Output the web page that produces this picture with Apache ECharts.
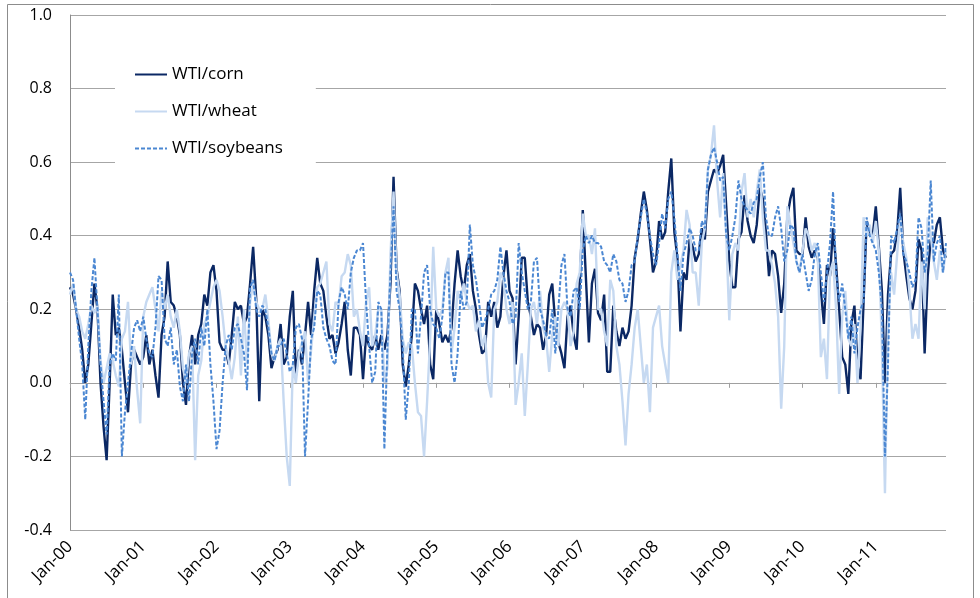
<!DOCTYPE html>
<html>
<head>
<meta charset="utf-8">
<script src="https://cdn.jsdelivr.net/npm/echarts@6/dist/echarts.min.js"></script>
<style>
html,body{margin:0;padding:0;background:#fff;}
#chart{width:980px;height:598px;}
</style>
</head>
<body>
<div id="chart"></div>
<script>
// Semi-monthly observations, Jan 2000 .. Dec 2011 (24 per year)
const tickLabels = ['Jan-00','Jan-01','Jan-02','Jan-03','Jan-04','Jan-05','Jan-06','Jan-07','Jan-08','Jan-09','Jan-10','Jan-11'];
const seriesNames = ['WTI/corn','WTI/wheat','WTI/soybeans'];

const corn = [
0.26,0.24,0.20,0.15,0.09,0.00,0.05,0.16,0.27,0.20,0.00,-0.12,-0.21,0.00,0.24,0.13,0.15,0.09,0.00,-0.08,0.05,0.09,0.07,0.05,
0.07,0.13,0.05,0.09,0.02,-0.04,0.13,0.18,0.33,0.22,0.21,0.18,0.13,0.00,-0.06,0.07,0.13,0.05,0.13,0.16,0.24,0.21,0.30,0.32,
0.25,0.11,0.09,0.09,0.05,0.13,0.22,0.20,0.21,0.16,0.18,0.27,0.37,0.23,-0.05,0.20,0.18,0.13,0.04,0.07,0.09,0.16,0.05,0.07,
0.18,0.25,0.02,0.09,0.05,0.13,0.22,0.13,0.25,0.34,0.27,0.25,0.18,0.12,0.13,0.08,0.11,0.16,0.22,0.09,0.02,0.15,0.15,0.13,
0.01,0.13,0.10,0.09,0.13,0.09,0.13,0.09,0.13,0.27,0.56,0.31,0.25,0.05,-0.01,0.05,0.13,0.27,0.25,0.20,0.16,0.21,0.05,0.01,
0.20,0.16,0.11,0.13,0.11,0.15,0.27,0.36,0.29,0.25,0.32,0.35,0.25,0.20,0.13,0.08,0.09,0.22,0.18,0.22,0.15,0.18,0.29,0.36,
0.25,0.23,0.05,0.18,0.34,0.34,0.22,0.18,0.13,0.16,0.15,0.09,0.13,0.24,0.27,0.16,0.11,0.08,0.04,0.18,0.21,0.13,0.09,0.27,
0.47,0.29,0.11,0.27,0.31,0.19,0.17,0.24,0.03,0.03,0.21,0.14,0.10,0.15,0.12,0.14,0.21,0.34,0.39,0.46,0.52,0.47,0.39,0.30,
0.33,0.44,0.39,0.41,0.52,0.61,0.41,0.34,0.14,0.30,0.28,0.39,0.37,0.33,0.35,0.42,0.39,0.52,0.55,0.58,0.57,0.59,0.62,0.48,
0.33,0.26,0.26,0.39,0.41,0.51,0.44,0.40,0.38,0.43,0.53,0.50,0.41,0.29,0.36,0.35,0.29,0.19,0.27,0.45,0.50,0.53,0.36,0.35,
0.35,0.45,0.37,0.34,0.36,0.34,0.25,0.16,0.32,0.29,0.42,0.32,0.20,0.07,0.05,-0.03,0.16,0.21,0.05,0.01,0.22,0.44,0.41,0.40,
0.48,0.37,0.25,0.00,0.24,0.35,0.36,0.41,0.53,0.36,0.29,0.23,0.20,0.25,0.39,0.36,0.08,0.29,0.39,0.38,0.43,0.45,0.36,0.34
];
const wheat = [
0.24,0.27,0.20,0.18,0.14,0.12,0.16,0.21,0.19,0.21,0.06,0.00,0.04,0.08,0.06,0.02,-0.01,0.12,0.14,0.22,0.05,0.10,-0.02,-0.11,
0.18,0.22,0.24,0.26,0.20,0.14,0.25,0.20,0.24,0.18,0.15,0.20,0.14,0.04,0.00,0.08,0.10,-0.21,0.02,0.06,0.16,0.18,0.22,0.26,
0.28,0.25,0.18,0.10,0.06,0.01,0.07,0.18,0.02,0.20,0.05,0.22,0.27,0.22,0.20,0.20,0.24,0.17,0.08,0.06,0.10,0.12,-0.05,-0.20,
-0.28,0.05,0.00,0.08,0.11,0.14,0.00,0.09,0.18,0.26,0.27,0.30,0.33,0.16,0.14,0.22,0.21,0.29,0.30,0.35,0.32,0.18,0.20,0.14,
0.10,0.22,0.26,0.10,0.13,0.20,0.20,0.00,0.04,0.35,0.52,0.30,0.24,0.12,0.08,0.11,0.10,0.00,-0.08,-0.09,-0.20,-0.05,0.12,0.37,
0.20,0.18,0.20,0.30,0.34,0.08,0.15,0.25,0.22,0.27,0.22,0.20,0.21,0.14,0.17,0.10,0.13,0.00,-0.04,0.20,0.22,0.30,0.28,0.20,
0.16,0.22,-0.06,0.00,0.08,-0.09,0.05,0.20,0.22,0.16,0.25,0.15,0.12,0.03,0.13,0.18,0.10,0.20,0.22,0.20,0.10,0.14,0.27,0.30,
0.46,0.40,0.40,0.35,0.42,0.20,0.20,0.14,0.10,0.28,0.25,0.10,0.05,-0.05,-0.17,-0.03,0.05,0.15,0.20,0.10,0.00,0.05,-0.08,0.15,
0.18,0.21,0.10,0.05,0.00,0.30,0.36,0.28,0.32,0.36,0.47,0.43,0.30,0.30,0.21,0.38,0.42,0.58,0.62,0.70,0.55,0.45,0.57,0.40,
0.17,0.35,0.38,0.36,0.52,0.57,0.45,0.50,0.45,0.52,0.58,0.45,0.36,0.36,0.32,0.27,0.18,-0.07,0.10,0.48,0.43,0.38,0.33,0.30,
0.36,0.42,0.40,0.36,0.38,0.34,0.07,0.12,0.01,0.30,0.33,0.20,-0.03,0.18,0.25,0.12,0.10,0.16,0.00,0.15,0.45,0.40,0.43,0.38,
0.44,0.36,0.10,-0.30,0.15,0.30,0.24,0.35,0.45,0.38,0.34,0.25,0.12,0.16,0.12,0.33,0.20,0.45,0.40,0.33,0.28,0.36,0.30,0.36
];
const soybeans = [
0.30,0.28,0.20,0.12,0.05,-0.10,0.10,0.25,0.34,0.20,0.05,-0.05,-0.14,0.05,0.08,0.06,0.24,-0.20,-0.08,0.00,0.08,0.15,0.17,0.14,
0.18,0.12,0.08,0.07,0.15,0.29,0.28,0.12,0.10,0.15,0.05,0.09,-0.01,-0.05,0.05,-0.05,0.08,0.12,0.05,0.15,0.10,0.20,0.05,-0.05,
-0.18,-0.13,0.00,0.10,0.13,0.09,0.15,0.16,0.12,0.08,-0.02,0.26,0.28,0.20,0.18,0.21,0.20,0.15,0.08,0.06,0.10,0.10,0.12,0.08,
0.03,0.05,0.15,0.16,0.12,-0.20,-0.05,0.12,0.15,0.25,0.24,0.15,0.12,0.10,0.06,0.05,0.22,0.26,0.24,0.20,0.30,0.34,0.36,0.36,
0.38,0.22,0.10,0.00,0.03,0.22,0.20,-0.18,0.10,0.30,0.48,0.25,0.20,0.10,-0.10,0.00,0.20,0.20,0.08,0.18,0.30,0.32,0.20,0.16,
0.15,0.12,0.18,0.30,0.30,0.05,0.00,0.08,0.25,0.20,0.22,0.43,0.32,0.28,0.22,0.15,0.17,0.20,0.24,0.25,0.28,0.37,0.30,0.25,
0.22,0.16,0.18,0.38,0.30,0.25,0.20,0.22,0.33,0.34,0.20,0.17,0.13,0.12,0.20,0.08,0.20,0.32,0.35,0.20,0.18,0.25,0.26,0.20,
0.36,0.40,0.38,0.40,0.38,0.38,0.37,0.33,0.32,0.30,0.35,0.33,0.28,0.27,0.22,0.25,0.32,0.33,0.40,0.45,0.50,0.46,0.40,0.35,
0.32,0.38,0.46,0.42,0.50,0.52,0.45,0.35,0.25,0.35,0.38,0.42,0.40,0.36,0.36,0.44,0.42,0.58,0.62,0.64,0.60,0.55,0.56,0.40,
0.36,0.40,0.45,0.55,0.50,0.48,0.47,0.46,0.49,0.50,0.56,0.60,0.45,0.40,0.40,0.45,0.48,0.42,0.33,0.36,0.43,0.42,0.33,0.30,
0.35,0.30,0.25,0.28,0.35,0.38,0.30,0.22,0.30,0.38,0.52,0.30,0.22,0.27,0.20,0.12,0.18,0.08,0.15,0.20,0.22,0.45,0.40,0.38,
0.36,0.30,0.20,-0.20,0.05,0.40,0.38,0.42,0.46,0.35,0.33,0.30,0.26,0.28,0.45,0.42,0.30,0.35,0.55,0.33,0.38,0.40,0.30,0.38
];

const monthNames = ['Jan','Feb','Mar','Apr','May','Jun','Jul','Aug','Sep','Oct','Nov','Dec'];
const categories = corn.map(function (_, i) {
  const y = 2000 + Math.floor(i / 24);
  const m = Math.floor((i % 24) / 2);
  return monthNames[m] + '-' + String(y).slice(2) + (i % 2 ? 'b' : 'a');
});

const FONT = '"Open Sans", Lato, sans-serif';
const chart = echarts.init(document.getElementById('chart'), null, {renderer: 'canvas'});
const isYearStart = function (idx) { return idx % 24 === 0; };

chart.setOption({
  animation: false,
  backgroundColor: '#ffffff',
  graphic: [{
    type: 'rect', silent: true, z: -1,
    shape: {x: 7.5, y: 4.5, width: 966, height: 620},
    style: {fill: 'none', stroke: '#8c8c8c', lineWidth: 1}
  }],
  grid: {left: 70, right: 34, top: 15, bottom: 68, containLabel: false},
  legend: {
    data: seriesNames,
    orient: 'vertical',
    left: 115, top: 53,
    padding: [13, 33, 11, 19],
    itemWidth: 32, itemHeight: 12, itemGap: 20,
    backgroundColor: '#ffffff',
    itemStyle: {opacity: 0},
    textStyle: {fontFamily: FONT, fontSize: 17, color: '#000'},
    z: 10
  },
  xAxis: [{
    type: 'category',
    data: categories,
    boundaryGap: false,
    position: 'bottom',
    axisLine: {show: false, onZero: false},
    axisTick: {show: false},
    splitLine: {show: false},
    axisLabel: {
      interval: function (idx) { return isYearStart(idx); },
      formatter: function (val, idx) { return tickLabels[idx / 24]; },
      rotate: 45, margin: 14,
      fontFamily: FONT, fontSize: 17, color: '#000'
    }
  }, {
    type: 'category',
    data: categories,
    boundaryGap: false,
    position: 'bottom',
    axisLine: {show: true, onZero: true, lineStyle: {color: '#a0a0a0', width: 1}},
    axisTick: {show: true, length: 5, interval: function (idx) { return isYearStart(idx); }, lineStyle: {color: '#a0a0a0'}},
    axisLabel: {show: false},
    splitLine: {show: false}
  }],
  yAxis: {
    type: 'value',
    min: -0.4, max: 1.0, interval: 0.2,
    axisLine: {show: true, lineStyle: {color: '#8c8c8c', width: 1}},
    axisTick: {show: false},
    splitLine: {show: true, lineStyle: {color: '#a6a6a6', width: 1}},
    axisLabel: {
      formatter: function (v) { return v.toFixed(1); },
      margin: 18, fontFamily: FONT, fontSize: 16, color: '#000'
    }
  },
  series: [{
    name: seriesNames[0], type: 'line', data: corn, xAxisIndex: 0,
    symbol: 'none', lineStyle: {color: '#0b2864', width: 2.4}, itemStyle: {color: '#0b2864'}
  }, {
    name: seriesNames[1], type: 'line', data: wheat, xAxisIndex: 0,
    symbol: 'none', lineStyle: {color: '#c6d9f1', width: 2.4}, itemStyle: {color: '#c6d9f1'}
  }, {
    name: seriesNames[2], type: 'line', data: soybeans, xAxisIndex: 0,
    symbol: 'none', lineStyle: {color: '#4b87d2', width: 2, type: [4, 2]}, itemStyle: {color: '#4b87d2'}
  }]
});
</script>
</body>
</html>
